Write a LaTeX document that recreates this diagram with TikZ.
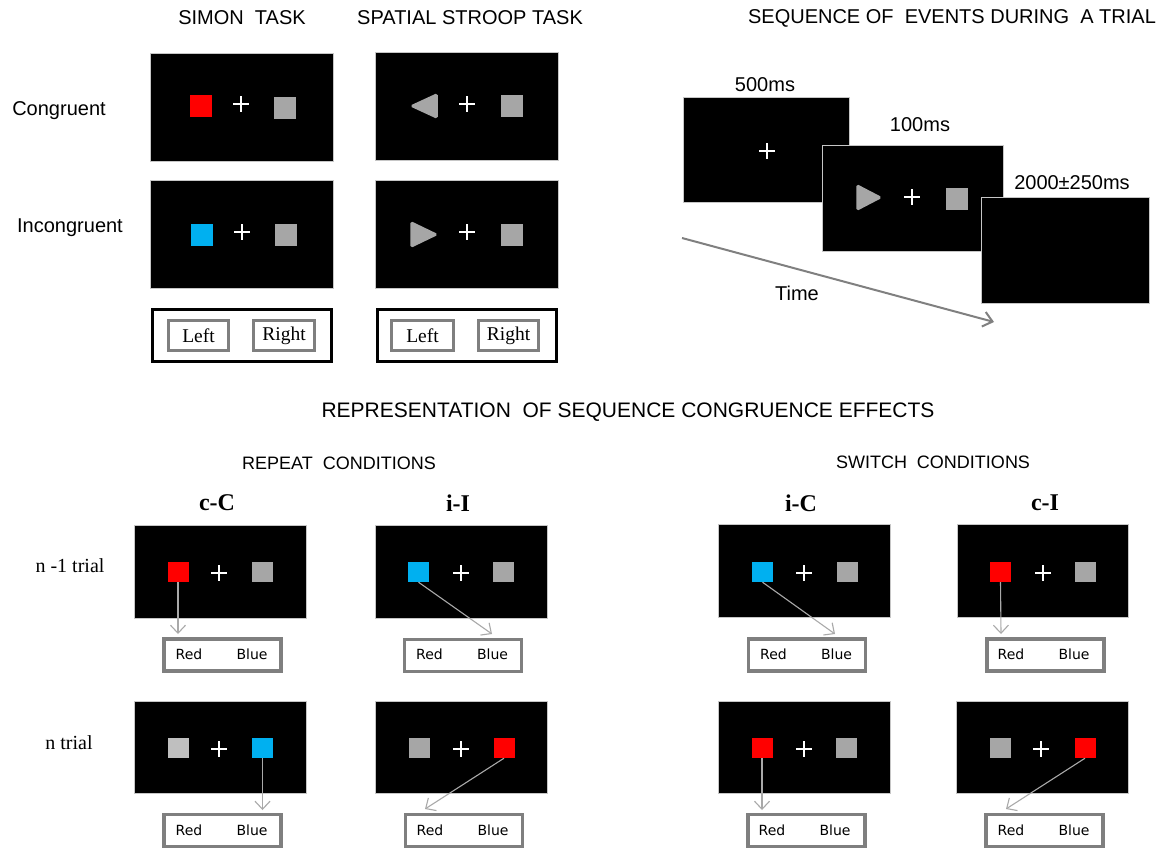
\documentclass[tikz,border=0pt]{standalone}
\usepackage{fontspec}
\setmainfont{Liberation Serif}
\newfontfamily\arialf{Liberation Sans}
\newfontfamily\tnrf{Liberation Serif}
\newfontfamily\segf{DejaVu Sans}
\usetikzlibrary{arrows.meta}
\definecolor{sred}{HTML}{FF0000}
\definecolor{scyan}{HTML}{00B0F0}
\definecolor{sgray}{HTML}{A6A6A6}
\definecolor{slight}{HTML}{BFBFBF}
\definecolor{bgray}{HTML}{7F7F7F}
\definecolor{agray}{HTML}{A9A9A9}
\definecolor{tgray}{HTML}{808080}
\newcommand\crs[2]{\draw[crossline] (#1-8,#2) -- (#1+8,#2) (#1,#2-8) -- (#1,#2+8);}
\tikzset{
  screen/.style={fill=black, draw=gray!45, line width=0.6pt, inner sep=0pt},
  crossline/.style={white, line width=1.3pt},
  sq/.style={fill=#1, draw=none, inner sep=0pt, minimum size=22pt},
  bsq/.style={fill=#1, draw=none, inner sep=0pt, minimum width=21pt, minimum height=20pt},
  tri/.style={fill=sgray, draw=sgray, line width=1.5pt, rounded corners=1.5pt},
  title/.style={font=\arialf\fontsize{20}{24}\selectfont},
  bigtitle/.style={font=\arialf\fontsize{21}{25}\selectfont},
  subtitle/.style={font=\arialf\fontsize{18}{22}\selectfont},
  lab/.style={font=\arialf\fontsize{20}{24}\selectfont},
  cond/.style={font=\tnrf\bfseries\fontsize{24}{28}\selectfont},
  rowlab/.style={font=\tnrf\fontsize{20}{24}\selectfont},
  outerbox/.style={draw=black, line width=3.5pt, fill=white, inner sep=0pt, minimum width=179pt, minimum height=52pt},
  keybox/.style={draw=bgray, line width=3pt, fill=white, inner sep=0pt, minimum height=30pt, font=\tnrf\fontsize{19.5}{22}\selectfont},
  resp/.style={draw=bgray, line width=3.5pt, fill=white, inner sep=0pt, minimum width=117pt, minimum height=32pt},
  word/.style={font=\segf\fontsize{14}{16}\selectfont, inner sep=0pt},
  conn/.style={draw=agray, line width=1.1pt, -{Straight Barb[length=8pt,width=15pt]}},
  timearrow/.style={draw=tgray, line width=2pt, -{Straight Barb[length=9pt,width=15pt]}}
}
\begin{document}
\begin{tikzpicture}[x=1pt,y=-1pt]
\useasboundingbox (0,0) rectangle (1169,849);
\fill[white] (0,0) rectangle (1169,849);

% ---------- titles ----------
\node[title] (tSimon) at (242,18) {SIMON\ \ TASK};
\node[title] (tStroop) at (470,18) {SPATIAL STROOP TASK};
\node[title] (tSeq) at (952,18) {SEQUENCE OF\ \ EVENTS DURING\ \ A TRIAL};

\node[lab] (lCong) at (59,111) {Congruent};
\node[lab] (lIncong) at (70,228) {Incongruent};

% ---------- Simon task ----------
\node[screen, minimum width=183pt, minimum height=108pt] (simC) at (241.5,107) {};
\node[sq=sred] (simCa) at (200.5,105.5) {};
\node[sq=sgray] (simCb) at (284.5,107.5) {};
\crs{241}{104}

\node[screen, minimum width=183pt, minimum height=108pt] (simI) at (241.5,234) {};
\node[sq=scyan] (simIa) at (201.5,234.5) {};
\node[sq=sgray] (simIb) at (285.5,234.5) {};
\crs{242}{232}

% ---------- Stroop task ----------
\node[screen, minimum width=183pt, minimum height=108pt] (strC) at (466.5,106) {};
\filldraw[tri] (411,106) -- (437,94) -- (437,118) -- cycle;
\node[sq=sgray] (strCb) at (511.5,106) {};
\crs{467}{104}

\node[screen, minimum width=183pt, minimum height=108pt] (strI) at (466.5,234) {};
\filldraw[tri] (411,222) -- (437,234.5) -- (411,247) -- cycle;
\node[sq=sgray] (strIb) at (511.5,235) {};
\crs{467}{232}

% ---------- key boxes ----------
\node[outerbox] (keyS) at (242,335.5) {};
\node[keybox, minimum width=60pt] (keySL) at (198.5,335.5) {Left};
\node[keybox, minimum width=61pt] (keySR) at (284,335.5) {Right};
\node[outerbox] (keyT) at (467,335.5) {};
\node[keybox, minimum width=62pt] (keyTL) at (422.5,335.5) {Left};
\node[keybox, minimum width=60pt] (keyTR) at (508.5,335.5) {Right};

% ---------- sequence of events ----------
\node[screen, minimum width=166pt, minimum height=105pt] (seq1) at (766,149.5) {};
\crs{767}{151}
\node[screen, minimum width=181pt, minimum height=106pt] (seq2) at (912.5,198) {};
\filldraw[tri] (857,185) -- (881,197.5) -- (857,210) -- cycle;
\node[sq=sgray] (seq2b) at (956.5,198.5) {};
\crs{912}{197}
\node[screen, minimum width=168pt, minimum height=106pt] (seq3) at (1065,250) {};

\node[lab] (l500) at (765,85) {500ms};
\node[lab] (l100) at (920,125) {100ms};
\node[lab] (l2000) at (1072,183) {2000±250ms};
\node[lab] (lTime) at (797,293) {Time};
\coordinate (tA) at (682,238);
\coordinate (tB) at (994,322);
\draw[timearrow] (tA) -- (tB);

% ---------- representation ----------
\node[bigtitle] (tRep) at (628,412) {REPRESENTATION\ \ OF SEQUENCE CONGRUENCE EFFECTS};
\node[subtitle] (tRepeat) at (339,463) {REPEAT\ \ CONDITIONS};
\node[subtitle] (tSwitch) at (933,462) {SWITCH\ \ CONDITIONS};

\node[cond] (cC) at (217,503) {c-C};
\node[cond] (iI) at (458,503) {i-I};
\node[cond] (iC) at (801,503) {i-C};
\node[cond] (cI) at (1045,503) {c-I};

\node[rowlab] (rN1) at (70,566) {n\ -1 trial};
\node[rowlab] (rN) at (69,743) {n trial};

% row n-1
\node[screen, minimum width=172pt, minimum height=93pt] (cC1) at (220,571.5) {};
\node[bsq=sred] (cC1a) at (178,572) {};
\node[bsq=sgray] (cC1b) at (262.5,572) {};
\crs{219}{573}
\node[screen, minimum width=172pt, minimum height=93pt] (iI1) at (461,571.5) {};
\node[bsq=scyan] (iI1a) at (418.5,572) {};
\node[bsq=sgray] (iI1b) at (503.5,572) {};
\crs{461}{573}
\node[screen, minimum width=172pt, minimum height=93pt] (iC1) at (804,571) {};
\node[bsq=scyan] (iC1a) at (762.5,572) {};
\node[bsq=sgray] (iC1b) at (847,572) {};
\crs{804}{573}
\node[screen, minimum width=171pt, minimum height=93pt] (cI1) at (1042.5,571) {};
\node[bsq=sred] (cI1a) at (1000.5,572) {};
\node[bsq=sgray] (cI1b) at (1085.5,572) {};
\crs{1043}{573}

% row n
\node[screen, minimum width=172pt, minimum height=92pt] (cC2) at (220,747.5) {};
\node[bsq=slight] (cC2a) at (178,748) {};
\node[bsq=scyan] (cC2b) at (262.5,748) {};
\crs{219}{749}
\node[screen, minimum width=172pt, minimum height=92pt] (iI2) at (461,747.5) {};
\node[bsq=sgray] (iI2a) at (419,748) {};
\node[bsq=sred] (iI2b) at (504,748) {};
\crs{461}{749}
\node[screen, minimum width=172pt, minimum height=92pt] (iC2) at (804,747.5) {};
\node[bsq=sred] (iC2a) at (762,748) {};
\node[bsq=sgray] (iC2b) at (846.5,748) {};
\crs{804}{749}
\node[screen, minimum width=172pt, minimum height=92pt] (cI2) at (1042,747.5) {};
\node[bsq=sgray] (cI2a) at (1000,748) {};
\node[bsq=sred] (cI2b) at (1085,748) {};
\crs{1041}{749}

% response boxes row n-1
\node[resp] (rcC1) at (222.5,655) {};
\node[word] at (189,654) {Red}; \node[word] at (252,654) {Blue};
\node[resp] (riI1) at (463,655.5) {};
\node[word] at (429.5,654.5) {Red}; \node[word] at (492.5,654.5) {Blue};
\node[resp] (riC1) at (807,655) {};
\node[word] at (773.5,654) {Red}; \node[word] at (836.5,654) {Blue};
\node[resp] (rcI1) at (1045.5,655) {};
\node[word] at (1011,654.5) {Red}; \node[word] at (1074,654.5) {Blue};

% response boxes row n
\node[resp] (rcC2) at (222.5,830.5) {};
\node[word] at (189,830) {Red}; \node[word] at (252,830) {Blue};
\node[resp] (riI2) at (464,830.5) {};
\node[word] at (430,830) {Red}; \node[word] at (493,830) {Blue};
\node[resp] (riC2) at (806.5,830.5) {};
\node[word] at (772,830) {Red}; \node[word] at (835,830) {Blue};
\node[resp] (rcI2) at (1044.5,830.5) {};
\node[word] at (1011,830) {Red}; \node[word] at (1074,830) {Blue};

% connectors
\coordinate (e1) at (178,634);
\coordinate (e2) at (492,634);
\coordinate (e3) at (835,634);
\coordinate (e4) at (1001,634);
\coordinate (e5) at (262.5,810);
\coordinate (e6) at (425,809);
\coordinate (e7) at (762,810);
\coordinate (e8) at (1006,809);
\draw[conn] (cC1a.south) -- (e1);
\draw[conn] (iI1a.south) -- (e2);
\draw[conn] (iC1a.south) -- (e3);
\draw[conn] (cI1a.south) -- (e4);
\draw[conn] (cC2b.south) -- (e5);
\draw[conn] (iI2b.south) -- (e6);
\draw[conn] (iC2a.south) -- (e7);
\draw[conn] (cI2b.south) -- (e8);
\end{tikzpicture}
\end{document}
